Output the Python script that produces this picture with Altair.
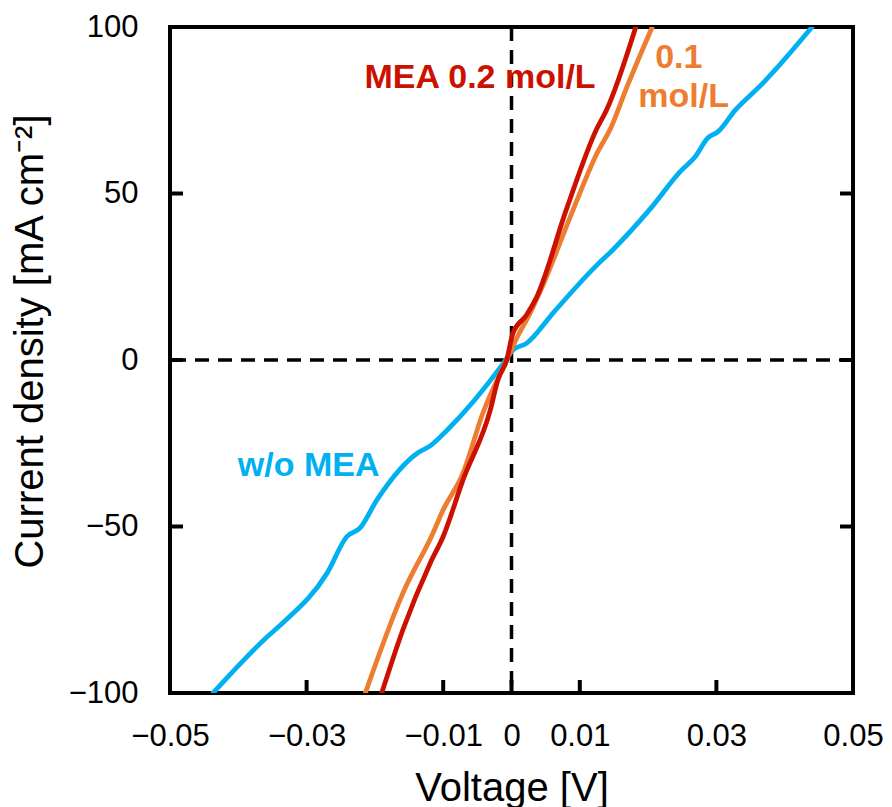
import altair as alt
import pandas as pd

# ---- data ----
blue_v = [-0.0437, -0.0358, -0.0335, -0.0270, -0.0241, -0.0222, -0.0197, -0.0138, -0.0119, -0.0094,
          -0.0012, 0.0002, 0.0022, 0.0062, 0.0125, 0.0146, 0.0204, 0.0248, 0.0268, 0.0288,
          0.0302, 0.0327, 0.0367, 0.0386, 0.0440]
blue_j = [-100, -83.2, -79, -64, -53, -50.5, -42, -28, -25.8, -21,
          -1, 3, 5, 14.4, 28.5, 32.6, 45.6, 56.8, 60.8, 66.8,
          68.5, 74.9, 82.9, 87.1, 100]

orange_v = [-0.0214, -0.0159, -0.0115, -0.0100, -0.0071, -0.0042, -0.0007, 0.0010, 0.0027, 0.0045,
            0.0090, 0.0125, 0.0145, 0.0169, 0.0206]
orange_j = [-100, -70, -52, -45, -34, -16, 0, 7.5, 14, 22, 45, 62, 69.5, 82, 100]

red_v = [-0.0190, -0.0159, -0.0119, -0.0100, -0.0071, -0.0031, -0.0020, -0.0007, 0.0002, 0.0022,
         0.0036, 0.0081, 0.0125, 0.0139, 0.0182]
red_j = [-100, -81, -61, -53, -36, -15, -6, 0, 8, 13.5, 18.5, 45.6, 69.5, 75, 100]

x_ticks = [-0.05, -0.03, -0.01, 0, 0.01, 0.03, 0.05]
y_ticks = [-100, -50, 0, 50, 100]
inner_x_ticks = [-0.03, -0.01, 0, 0.01, 0.03]
inner_y_ticks = [-50, 0, 50]

labels = ["MEA 0.2 mol/L", "0.1", "mol/L", "w/o MEA"]
label_v = [-0.0046, 0.0245, 0.0252, -0.0297]
label_j = [81.7, 87.7, 76.0, -34.8]
label_c = ["#CC1100", "#ED7D31", "#ED7D31", "#00B0F0"]

BLUE, ORANGE, RED = "#00B0F0", "#ED7D31", "#CC1100"
FONT = "Liberation Sans"

def series_df(v, j):
    return pd.DataFrame({"v": v, "j": j, "i": range(len(v))})

xs = alt.Scale(domain=[-0.05, 0.05], nice=False, zero=False)
ys = alt.Scale(domain=[-100, 100], nice=False, zero=False)

x_axis = alt.Axis(values=x_ticks, grid=False, domain=False, ticks=False, tickSize=0,
                  labelExpr="datum.value == 0 ? '0' : replace(format(datum.value, '.2f'), '-', '\u2212')",
                  labelFont=FONT, labelFontSize=31, labelColor="black", labelPadding=28,
                  labelFlush=False, labelOverlap=False,
                  title="Voltage [V]", titleFont=FONT, titleFontSize=40, titleFontWeight="normal",
                  titleColor="black", titleY=107, titleBaseline="alphabetic")
y_axis = alt.Axis(values=y_ticks, grid=False, domain=False, ticks=False, tickSize=0,
                  labelExpr="replace(format(datum.value, 'd'), '-', '\u2212')",
                  labelFont=FONT, labelFontSize=31, labelColor="black", labelPadding=32,
                  labelFlush=False, labelOverlap=False,
                  title="Current density [mA cm\u207b\u00b2]", titleFont=FONT, titleFontSize=40,
                  titleFontWeight="normal", titleColor="black", titleX=-140, titleY=314,
                  titleAngle=-90, titleBaseline="middle", titleAlign="center")

def line(v, j, color):
    return alt.Chart(series_df(v, j)).mark_line(color=color, strokeWidth=4.8, clip=True,
                                                interpolate="monotone",
                                                strokeCap="round", strokeJoin="round").encode(
        x=alt.X("v:Q", scale=xs, axis=x_axis),
        y=alt.Y("j:Q", scale=ys, axis=y_axis),
        order="i:Q",
    )

vdash = alt.Chart(pd.DataFrame({"v": [0]})).mark_rule(color="black", strokeWidth=3.5,
                                                      strokeDash=[14, 9]).encode(x=alt.X("v:Q", scale=xs))
hdash = alt.Chart(pd.DataFrame({"j": [0]})).mark_rule(color="black", strokeWidth=3.5,
                                                      strokeDash=[14, 9]).encode(y=alt.Y("j:Q", scale=ys))

bt = alt.Chart(pd.DataFrame({"v": inner_x_ticks})).mark_rule(color="black", strokeWidth=4).encode(
    x=alt.X("v:Q", scale=xs), y=alt.value(666), y2=alt.value(653))
lt = alt.Chart(pd.DataFrame({"j": inner_y_ticks})).mark_rule(color="black", strokeWidth=4).encode(
    y=alt.Y("j:Q", scale=ys), x=alt.value(0), x2=alt.value(13))
rt = alt.Chart(pd.DataFrame({"j": inner_y_ticks})).mark_rule(color="black", strokeWidth=4).encode(
    y=alt.Y("j:Q", scale=ys), x=alt.value(683), x2=alt.value(670))

ann = alt.Chart(pd.DataFrame({"t": labels, "v": label_v, "j": label_j, "c": label_c})).mark_text(
    font=FONT, fontSize=34, fontWeight="bold", align="center", baseline="alphabetic").encode(
    x=alt.X("v:Q", scale=xs), y=alt.Y("j:Q", scale=ys), text="t:N",
    color=alt.Color("c:N", scale=None))

chart = alt.layer(
    vdash, hdash, bt, lt, rt,
    line(blue_v, blue_j, BLUE),
    line(orange_v, orange_j, ORANGE),
    line(red_v, red_j, RED),
    ann,
).properties(
    width=683, height=666,
    autosize=alt.AutoSizeParams(type="none"),
    padding={"left": 170, "top": 27, "right": 39, "bottom": 114},
    background="white",
).configure_view(stroke="black", strokeWidth=4)

chart.save("out.html", embed_options={"renderer": "svg", "actions": False})
